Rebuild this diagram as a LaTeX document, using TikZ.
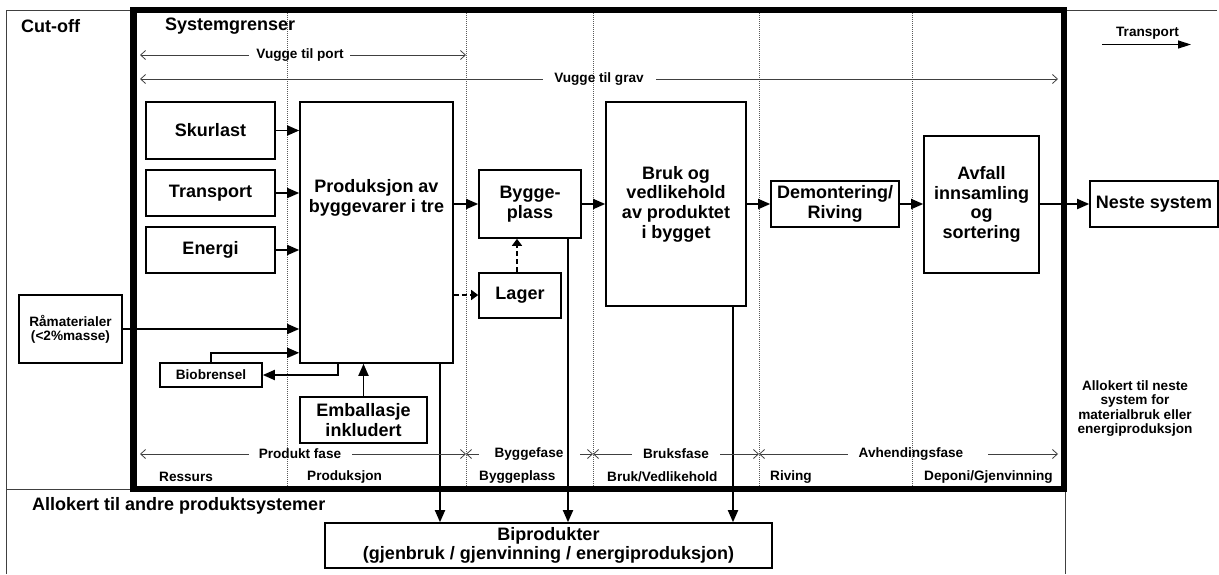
\documentclass[tikz,border=0pt]{standalone}
\usepackage{fontspec}
\setmainfont{Liberation Sans}
\usetikzlibrary{arrows.meta}
\tikzset{barb/.tip={Straight Barb[length=5pt,width=9pt]}}
\begin{document}
\begin{tikzpicture}[x=1pt,y=-1pt,
  big/.style={font=\fontsize{18}{19.7}\selectfont\bfseries},
  small/.style={font=\fontsize{13.6}{14.3}\selectfont\bfseries},
  box/.style={draw, line width=1.6pt, inner sep=0pt, align=center, fill=white},
  flow/.style={line width=1.8pt, -{Triangle[length=12pt,width=10pt]}},
  dflow/.style={line width=1.4pt, dash pattern=on 5pt off 3pt, -{Triangle[length=7pt,width=10pt]}},
  dimline/.style={line width=0.8pt, black!75},
  sep/.style={line width=0.6pt, black!65, dash pattern=on 1pt off 1pt},
  thin/.style={line width=1pt, black!75},
  txt/.style={inner sep=0pt}]
\useasboundingbox (0,0) rectangle (1219,574);

% thin outer frame
\draw[thin] (133,10) -- (6,10) -- (6,574);
\draw[thin] (6,489) -- (133,489);
\draw[thin] (1065,10) -- (1217,10);
\draw[thin] (1065,489) -- (1065,574);

% dotted column separators
\foreach \xx in {287,466,593,759,912} \draw[sep] (\xx,13) -- (\xx,486);

% titles
\node[txt,big,anchor=west] (cut) at (21,26) {Cut-off};
\node[txt,big,anchor=west] (sys) at (165,26) {Systemgrenser};
\node[txt,big,anchor=west] (alloA) at (32,506) {Allokert til andre produktsystemer};
\node[txt,small,align=center] (alloN) at (1135,408.5) {Allokert til neste\\system for\\materialbruk eller\\energiproduksjon};

% legend
\node[txt,small] (legT) at (1147.5,33) {Transport};
\coordinate (legA) at (1102,44.5);
\coordinate (legB) at (1191,44.5);
\draw[line width=1.4pt,-{Triangle[length=13pt,width=8pt]}] (legA) -- (legB);

% Vugge til port / grav
\node[txt,small] (vtp) at (300,55) {Vugge til port};
\coordinate (vtpL) at (140,55); \coordinate (vtpG1) at (249,55);
\coordinate (vtpG2) at (350,55); \coordinate (vtpR) at (466,55);
\draw[dimline,{barb}-] (vtpL) -- (vtpG1);
\draw[dimline,-{barb}] (vtpG2) -- (vtpR);
\node[txt,small] (vtg) at (599,79) {Vugge til grav};
\coordinate (vtgL) at (140,79); \coordinate (vtgG1) at (543,79);
\coordinate (vtgG2) at (656,79); \coordinate (vtgR) at (1058,79);
\draw[dimline,{barb}-] (vtgL) -- (vtgG1);
\draw[dimline,-{barb}] (vtgG2) -- (vtgR);

% boxes
\node[box,big,minimum width=129pt,minimum height=57pt] (skur) at (210.5,130.5) {Skurlast};
\node[box,big,minimum width=129pt,minimum height=46pt] (trans) at (210.5,193) {Transport};
\node[box,big,minimum width=129pt,minimum height=46pt] (energi) at (210.5,250) {Energi};
\node[box,minimum width=153pt,minimum height=261pt] (prod) at (376.5,232.5) {};
\node[txt,big,align=center] (prodT) at (376.5,198) {Produksjon av\\byggevarer i tre};
\node[box,big,minimum width=102pt,minimum height=68pt] (bygge) at (530,204) {Bygge-\\plass};
\node[box,big,minimum width=82pt,minimum height=45pt] (lager) at (520,295.5) {Lager};
\node[box,big,minimum width=140pt,minimum height=204pt] (bruk) at (676,204) {Bruk og\\vedlikehold\\av produktet\\i bygget};
\node[box,big,minimum width=128pt,minimum height=46pt] (demont) at (835,204) {Demontering/\\Riving};
\node[box,big,minimum width=115pt,minimum height=137pt] (avfall) at (981.5,204.5) {Avfall\\innsamling\\og\\sortering};
\node[box,big,minimum width=128pt,minimum height=46pt] (neste) at (1154,204) {Neste system};
\node[box,small,minimum width=103pt,minimum height=68pt] (raa) at (70.5,329) {Råmaterialer\\(<2\%masse)};
\node[box,small,minimum width=102pt,minimum height=24pt] (bio) at (211,375) {Biobrensel};
\node[box,big,minimum width=127pt,minimum height=46pt] (emb) at (363.5,420) {Emballasje\\inkludert};
\node[box,big,minimum width=447pt,minimum height=45pt,font=\fontsize{18}{18.7}\selectfont\bfseries] (bipro) at (548.5,545.5) {Biprodukter\\(gjenbruk / gjenvinning / energiproduksjon)};

% flows
\draw[flow] (skur.east) -- (skur.east -| prod.west);
\draw[flow] (trans.east) -- (trans.east -| prod.west);
\draw[flow] (energi.east) -- (energi.east -| prod.west);
\draw[flow] (bygge.west -| prod.east) -- (bygge.west);
\draw[flow] (bygge.east) -- (bygge.east -| bruk.west);
\draw[flow] (bruk.east |- demont.west) -- (demont.west);
\draw[flow] (demont.east) -- (demont.east -| avfall.west);
\draw[flow] (avfall.east |- neste.west) -- (neste.west);
\draw[flow] (raa.east) -- (raa.east -| prod.west);
\draw[flow] (bio.north) |- ([yshift=11pt]prod.south west);
\draw[flow] ([xshift=-38.5pt]prod.south) |- (bio.east);
\draw[flow] (emb.north) -- (emb.north |- prod.south);
\draw[flow] ([xshift=63.5pt]prod.south) -- ([xshift=63.5pt]prod.south |- bipro.north);
\draw[flow] ([xshift=38pt]bygge.south) -- ([xshift=38pt]bygge.south |- bipro.north);
\draw[flow] ([xshift=57pt]bruk.south) -- ([xshift=57pt]bruk.south |- bipro.north);
\draw[dflow] ([yshift=0.5pt]lager.west -| prod.east) -- ([yshift=0.5pt]lager.west);
\draw[dflow] ([xshift=-3pt]lager.north) -- ([xshift=-3pt]lager.north |- bygge.south);

% phases
\node[txt,small] (pf) at (300,454) {Produkt fase};
\node[txt,small] (bf) at (529,454) {Byggefase};
\node[txt,small] (brf) at (676,454) {Bruksfase};
\node[txt,small] (af) at (911,454) {Avhendingsfase};
\coordinate (q0) at (140,454); \coordinate (q1) at (466,454);
\coordinate (q2) at (593,454); \coordinate (q3) at (759,454);
\coordinate (q4) at (1058,454);
\coordinate (g1) at (249,454); \coordinate (g2) at (352,454);
\coordinate (g3) at (479,454); \coordinate (g4) at (580,454);
\coordinate (g5) at (632,454); \coordinate (g6) at (720,454);
\coordinate (g7) at (848,454); \coordinate (g8) at (988,454);
\draw[dimline,{barb}-] (q0) -- (g1);
\draw[dimline,-{barb}] (g2) -- (q1);
\draw[dimline,{barb}-] (q1) -- (g3);
\draw[dimline,-{barb}] (g4) -- (q2);
\draw[dimline,{barb}-] (q2) -- (g5);
\draw[dimline,-{barb}] (g6) -- (q3);
\draw[dimline,{barb}-] (q3) -- (g7);
\draw[dimline,-{barb}] (g8) -- (q4);

% column labels
\node[txt,small,anchor=west] (c1) at (159,477) {Ressurs};
\node[txt,small,anchor=west] (c2) at (307,477) {Produksjon};
\node[txt,small,anchor=west] (c3) at (479,477) {Byggeplass};
\node[txt,small,anchor=west] (c4) at (607,477) {Bruk/Vedlikehold};
\node[txt,small,anchor=west] (c5) at (770,477) {Riving};
\node[txt,small,anchor=west] (c6) at (924,477) {Deponi/Gjenvinning};

% system boundary
\draw[line width=6.5pt] (133.5,10) rectangle (1064,489);
\end{tikzpicture}
\end{document}
